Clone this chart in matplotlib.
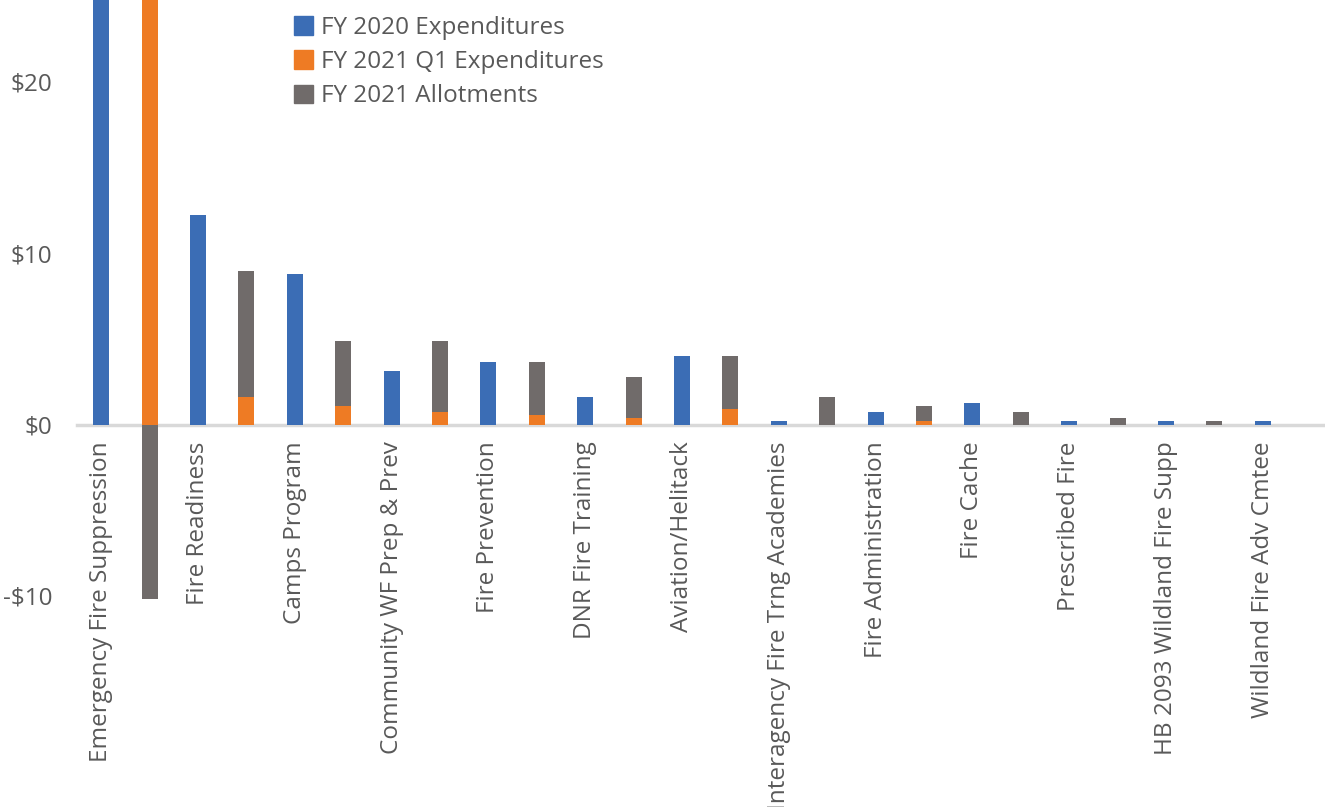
import matplotlib
matplotlib.use("Agg")
import matplotlib.pyplot as plt
from matplotlib.patches import Patch

# ---- data ($ millions), one entry per program ----
programs = [
    "Emergency Fire Suppression", "Fire Readiness", "Camps Program",
    "Community WF Prep & Prev", "Fire Prevention", "DNR Fire Training",
    "Aviation/Helitack", "Interagency Fire Trng Academies", "Fire Administration",
    "Fire Cache", "Prescribed Fire", "HB 2093 Wildland Fire Supp",
    "Wildland Fire Adv Cmtee",
]
fy2020_exp = [45.0, 12.2, 8.8, 3.1, 3.65, 1.6, 4.0, 0.2, 0.75, 1.25, 0.2, 0.2, 0.2]
fy2021_q1_exp = [34.0, 1.6, 1.1, 0.75, 0.55, 0.38, 0.9, 0.0, 0.2, 0.0, 0.0, 0.0, 0.0]
fy2021_allot = [-10.2, 7.35, 3.75, 4.1, 3.1, 2.4, 3.1, 1.58, 0.88, 0.75, 0.36, 0.2, 0.0]

BLUE = "#3B6DB5"
ORANGE = "#EE7B24"
GRAY = "#706B6A"
TEXT = "#595959"
FS = 17.5

plt.rcParams["font.family"] = ["Open Sans", "DejaVu Sans"]

W, H = 1325, 807
fig = plt.figure(figsize=(W / 100, H / 100), dpi=100)

# axes geometry in pixels (Excel-like layout, chart cropped at top/right)
left_px, slot_px, zero_px, unit_px = 77, 48.4, 424.5, 17.15
ax = fig.add_axes([left_px / W, 0, 1 - left_px / W, 1])
ax.set_xlim(-0.5, (W - left_px) / slot_px - 0.5)
ax.set_ylim(-(H - zero_px) / unit_px, zero_px / unit_px)

n = len(programs)
x_blue = [2 * i for i in range(n)]
x_stack = [2 * i + 1 for i in range(n)]
bw = 0.33

ax.bar(x_blue, fy2020_exp, width=bw, color=BLUE, zorder=3)
ax.bar(x_stack, fy2021_q1_exp, width=bw, color=ORANGE, zorder=3)
# negative allotments stack from zero, positive ones on top of Q1 spending
gray_bottom = [q if a >= 0 else 0 for q, a in zip(fy2021_q1_exp, fy2021_allot)]
ax.bar(x_stack, fy2021_allot, bottom=gray_bottom, width=bw, color=GRAY, zorder=3)

# category axis sits on the zero line
for s in ["top", "right", "left"]:
    ax.spines[s].set_visible(False)
ax.spines["bottom"].set_position(("data", 0))
ax.spines["bottom"].set_color("#D9D9D9")
ax.spines["bottom"].set_linewidth(2.5)
ax.spines["bottom"].set_zorder(2)

ax.set_xticks(x_blue)
ax.set_xticklabels(programs, rotation=90, va="top", ha="center",
                   fontsize=FS, color=TEXT)
ax.tick_params(axis="x", length=0, pad=12)

yt = [-10, 0, 10, 20]
ax.set_yticks(yt)
ax.set_yticklabels([f"-${-v}" if v < 0 else f"${v}" for v in yt],
                   fontsize=FS, color=TEXT)
ax.tick_params(axis="y", length=0, pad=18)

handles = [Patch(color=BLUE), Patch(color=ORANGE), Patch(color=GRAY)]
labels = ["FY 2020 Expenditures", "FY 2021 Q1 Expenditures", "FY 2021 Allotments"]
leg = fig.legend(handles, labels, loc="upper left",
                 bbox_to_anchor=(272 / W, 1 + 6 / H), frameon=False,
                 fontsize=FS, handlelength=0.78, handleheight=0.78,
                 handletextpad=0.35, labelspacing=0.42)
for t in leg.get_texts():
    t.set_color(TEXT)

fig.savefig("out.png", dpi=100)
